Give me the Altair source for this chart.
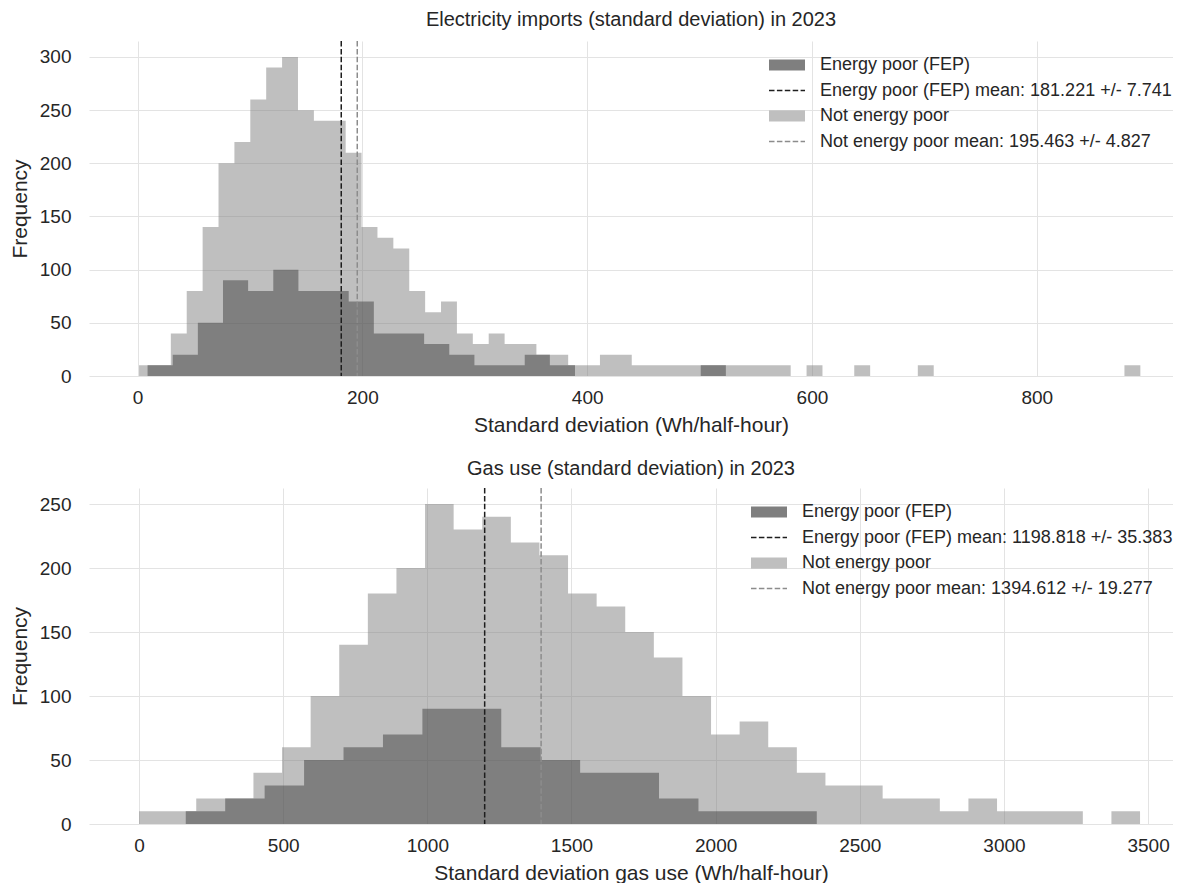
import altair as alt
import pandas as pd

FONT = "Liberation Sans"
TEXT_COLOR = "#262626"

# ---------------- Top panel: electricity imports ----------------
ELEC_TITLE = "Electricity imports (standard deviation) in 2023"
ELEC_XTITLE = "Standard deviation (Wh/half-hour)"
ELEC_FEP_START = 8.9
ELEC_FEP_WIDTH = 22.37
ELEC_FEP_COUNTS = [10, 20, 50, 90, 80, 100, 80, 80, 70, 40, 40, 30, 20, 10, 10,
                   20, 10, 0, 0, 0, 0, 0, 10]
ELEC_NEP_START = 1.33
ELEC_NEP_WIDTH = 14.14
ELEC_NEP_COUNTS = [10, 10, 40, 80, 140, 200, 220, 260, 290, 300,
                   250, 240, 240, 210, 140, 130, 120, 80, 60, 70,
                   40, 30, 40, 30, 30, 20, 20, 10, 10, 20,
                   20, 10, 10, 10, 10, 10, 10, 10, 10, 10,
                   10, 0, 10, 0, 0, 10, 0, 0, 0, 10,
                   0, 0, 0, 0, 0, 0, 0, 0, 0, 0, 0, 0, 10]
ELEC_MEANS = [181.221, 195.463]
ELEC_ERRS = [7.741, 4.827]
ELEC_XTICKS = [0, 200, 400, 600, 800]
ELEC_YTICKS = [0, 50, 100, 150, 200, 250, 300]

# ---------------- Bottom panel: gas use ----------------
GAS_TITLE = "Gas use (standard deviation) in 2023"
GAS_XTITLE = "Standard deviation gas use (Wh/half-hour)"
GAS_FEP_START = 162.0
GAS_FEP_WIDTH = 136.8
GAS_FEP_COUNTS = [10, 20, 30, 50, 60, 70, 90, 90, 60, 50, 40, 40, 20, 10, 10, 10]
GAS_NEP_START = 0.0
GAS_NEP_WIDTH = 99.2
GAS_NEP_COUNTS = [10, 10, 20, 20, 40, 60, 100, 140, 180, 200,
                  250, 230, 240, 220, 210, 180, 170, 150, 130, 100,
                  70, 80, 60, 40, 30, 30, 20, 20, 10, 20,
                  10, 10, 10, 0, 10]
GAS_MEANS = [1198.818, 1394.612]
GAS_ERRS = [35.383, 19.277]
GAS_XTICKS = [0, 500, 1000, 1500, 2000, 2500, 3000, 3500]
GAS_YTICKS = [0, 50, 100, 150, 200, 250]

GROUPS = ["Energy poor (FEP)", "Not energy poor"]


def step_frame(start, width, counts):
    xs = [start + i * width for i in range(len(counts) + 1)]
    ys = list(counts) + [0]
    return pd.DataFrame({"x": xs, "count": ys})


def panel(title, xtitle, fep, nep, means, errs, xdom, ydom, xticks, yticks,
          width, height, leg_x, leg_y, title_offset):
    x_enc = alt.X("x:Q", scale=alt.Scale(domain=xdom, nice=False, zero=False),
                  axis=alt.Axis(values=xticks, title=xtitle, format="d"))
    y_enc = alt.Y("count:Q", scale=alt.Scale(domain=ydom, nice=False),
                  axis=alt.Axis(values=yticks, title="Frequency", format="d"))

    dark = alt.Chart(step_frame(*fep)).mark_area(
        interpolate="step-after", color="black", opacity=0.5
    ).encode(x=x_enc, y=y_enc)
    light = alt.Chart(step_frame(*nep)).mark_area(
        interpolate="step-after", color="#808080", opacity=0.5
    ).encode(x=x_enc, y=y_enc)

    rule_colors = ["#1e1e1e", "#8c8c8c"]
    rules = []
    for m, c in zip(means, rule_colors):
        rules.append(
            alt.Chart(pd.DataFrame({"x": [m]})).mark_rule(
                color=c, strokeWidth=1.5, strokeDash=[5.5, 2.4]
            ).encode(x=x_enc)
        )

    # legend (upper right, no frame)
    labels = [
        GROUPS[0],
        f"{GROUPS[0]} mean: {means[0]:.3f} +/- {errs[0]:.3f}",
        GROUPS[1],
        f"{GROUPS[1]} mean: {means[1]:.3f} +/- {errs[1]:.3f}",
    ]
    row_gap = 25.5
    one = pd.DataFrame({"a": [0]})
    leg = []
    patch_w = 36
    for i, lab in enumerate(labels):
        cy = leg_y + i * row_gap
        if i in (0, 2):
            leg.append(
                alt.Chart(one).mark_rect(
                    color="black" if i == 0 else "#808080", opacity=0.5
                ).encode(x=alt.value(leg_x), x2=alt.value(leg_x + patch_w),
                         y=alt.value(cy - 5.5), y2=alt.value(cy + 5.5))
            )
        else:
            leg.append(
                alt.Chart(one).mark_rule(
                    color=rule_colors[0] if i == 1 else rule_colors[1],
                    strokeWidth=1.5, strokeDash=[5.5, 2.4]
                ).encode(x=alt.value(leg_x), x2=alt.value(leg_x + patch_w),
                         y=alt.value(cy))
            )
        leg.append(
            alt.Chart(pd.DataFrame({"t": [lab]})).mark_text(
                align="left", baseline="middle", font=FONT, fontSize=18,
                color=TEXT_COLOR
            ).encode(x=alt.value(leg_x + 51), y=alt.value(cy), text="t:N")
        )

    return alt.layer(dark, light, *rules, *leg).properties(
        width=width, height=height,
        title=alt.TitleParams(title, fontSize=20, font=FONT, color=TEXT_COLOR,
                              fontWeight="normal", offset=title_offset),
    )


PLOT_W = 1084
top = panel(
    ELEC_TITLE, ELEC_XTITLE,
    (ELEC_FEP_START, ELEC_FEP_WIDTH, ELEC_FEP_COUNTS),
    (ELEC_NEP_START, ELEC_NEP_WIDTH, ELEC_NEP_COUNTS),
    ELEC_MEANS, ELEC_ERRS,
    [-43.2, -43.2 + PLOT_W / 1.124], [0, 315], ELEC_XTICKS, ELEC_YTICKS,
    PLOT_W, 335, 680, 24, 10,
)
bottom = panel(
    GAS_TITLE, GAS_XTITLE,
    (GAS_FEP_START, GAS_FEP_WIDTH, GAS_FEP_COUNTS),
    (GAS_NEP_START, GAS_NEP_WIDTH, GAS_NEP_COUNTS),
    GAS_MEANS, GAS_ERRS,
    [-173.6, -173.6 + PLOT_W / 0.2883], [0, 262.5], GAS_XTICKS, GAS_YTICKS,
    PLOT_W, 336, 662, 24, 8,
)

chart = alt.vconcat(top, bottom, spacing=24).properties(
    padding={"left": 9, "top": 10, "right": 0, "bottom": 0},
    background="white",
).configure_view(stroke=None).configure_axis(
    domain=False, ticks=False, tickSize=0, grid=True, gridColor="#e3e3e3",
    gridWidth=1, labelFont=FONT, labelFontSize=19, labelColor=TEXT_COLOR,
    titleFont=FONT, titleFontSize=21, titleColor=TEXT_COLOR,
    titleFontWeight="normal", labelPadding=12, titlePadding=7,
).configure_axisY(labelPadding=18, titlePadding=9)

chart.save("out.html", embed_options={"renderer": "svg", "actions": False})
